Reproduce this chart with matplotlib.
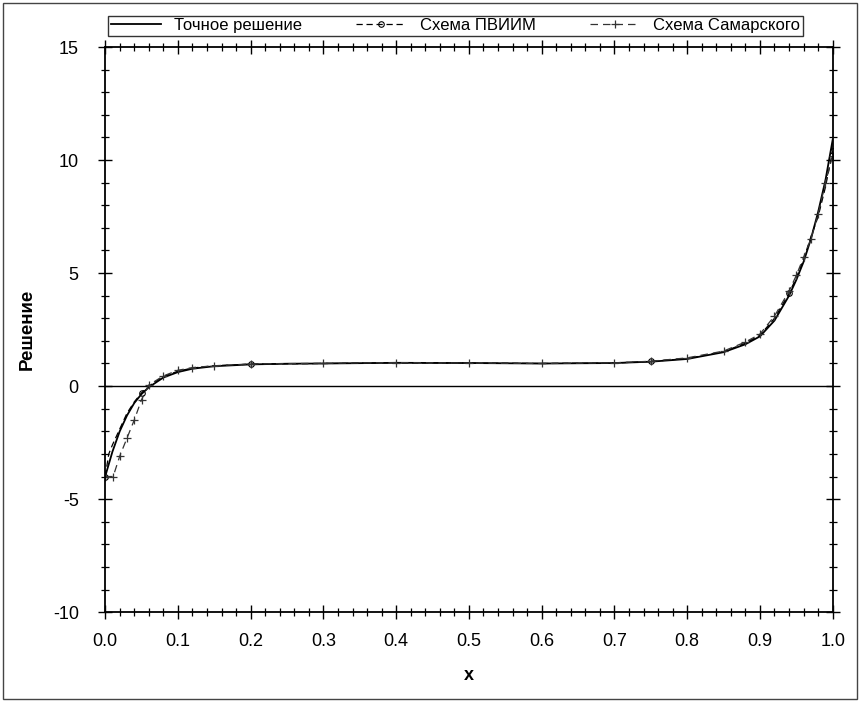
import matplotlib
matplotlib.use("Agg")
import matplotlib.pyplot as plt
from matplotlib.patches import Rectangle
from matplotlib.ticker import MultipleLocator

plt.rcParams['font.family'] = ['Liberation Sans', 'DejaVu Sans']
plt.rcParams['axes.unicode_minus'] = False

# exact solution
x_exact = [0.0, 0.01, 0.02, 0.03, 0.04, 0.05, 0.06, 0.08, 0.10, 0.12, 0.15, 0.20,
           0.25, 0.30, 0.40, 0.50, 0.60, 0.70, 0.75, 0.80, 0.85, 0.88, 0.90,
           0.92, 0.94, 0.95, 0.96, 0.97, 0.98, 0.99, 1.0]
y_exact = [-4.0, -2.9, -2.0, -1.3, -0.75, -0.35, -0.05, 0.38, 0.62, 0.77, 0.88, 0.96,
           0.99, 1.0, 1.03, 1.02, 1.0, 1.02, 1.08, 1.2, 1.5, 1.85, 2.2,
           2.9, 4.0, 4.7, 5.5, 6.5, 7.7, 9.1, 10.9]

# scheme PVIIM
x_pviim = [0.0, 0.005, 0.01, 0.02, 0.03, 0.04, 0.05, 0.06, 0.08, 0.10, 0.12, 0.15,
           0.20, 0.30, 0.40, 0.50, 0.60, 0.70, 0.75, 0.80, 0.85, 0.88, 0.90,
           0.92, 0.94, 0.95, 0.96, 0.97, 0.98, 0.99, 1.0]
y_pviim = [-4.0, -3.0, -2.6, -1.9, -1.2, -0.7, -0.3, 0.0, 0.42, 0.66, 0.8, 0.9,
           0.97, 1.0, 1.03, 1.02, 1.0, 1.02, 1.09, 1.22, 1.52, 1.9, 2.25,
           3.0, 4.1, 4.8, 5.6, 6.6, 7.5, 8.8, 10.4]

# scheme Samarsky
x_sam = [0.0, 0.011, 0.02, 0.03, 0.04, 0.05, 0.06, 0.08, 0.10, 0.12, 0.15,
         0.20, 0.30, 0.40, 0.50, 0.60, 0.70, 0.75, 0.80, 0.85, 0.88, 0.90,
         0.92, 0.94, 0.95, 0.96, 0.97, 0.98, 0.99, 1.0]
y_sam = [-4.0, -4.0, -3.1, -2.3, -1.5, -0.6, 0.05, 0.45, 0.7, 0.82, 0.9,
         0.98, 1.01, 1.04, 1.02, 1.0, 1.03, 1.1, 1.25, 1.55, 1.95, 2.3,
         3.1, 4.2, 4.9, 5.7, 6.5, 7.6, 9.0, 10.2]

fig = plt.figure(figsize=(8.62, 7.02), dpi=100)
ax = fig.add_axes([0.122, 0.128, 0.844, 0.805])

ax.axhline(0, color='black', lw=1.0, zorder=1)
ax.plot(x_exact, y_exact, color='black', lw=1.3, label='Точное решение')
ax.plot(x_pviim, y_pviim, color='black', lw=0.9, ls=(0, (5, 3)),
        marker='o', ms=4, mfc='none', mew=0.8, markevery=6, label='Схема ПВИИМ')
ax.plot(x_sam, y_sam, color='#333333', lw=0.9, ls=(0, (6, 4)),
        marker='+', ms=6, mew=0.9, markevery=1, label='Схема Самарского')

ax.set_xlim(0, 1)
ax.set_ylim(-10, 15)
ax.xaxis.set_minor_locator(MultipleLocator(0.02))
ax.yaxis.set_major_locator(MultipleLocator(5))
ax.yaxis.set_minor_locator(MultipleLocator(1))
ax.set_xticks([i / 10 for i in range(11)])
ax.set_xticklabels(['0.0', '0.1', '0.2', '0.3', '0.4', '0.5', '0.6', '0.7', '0.8', '0.9', '1.0'])
ax.tick_params(which='major', direction='inout', length=10, width=1.0, labelsize=13,
               top=True, right=True)
ax.tick_params(axis='x', which='major', pad=10)
ax.tick_params(axis='y', which='major', pad=14)
ax.tick_params(which='minor', direction='inout', length=6, width=0.9, top=True, right=True)
for s in ax.spines.values():
    s.set_linewidth(1.3)

ax.set_xlabel('x', fontsize=13, fontweight='bold', labelpad=12)
ax.set_ylabel('Решение', fontsize=13.5, fontweight='bold', labelpad=12)

leg = ax.legend(loc='lower left', bbox_to_anchor=(0.004, 1.02, 0.955, 0.04), ncol=3,
                mode='expand', fontsize=12, frameon=True, fancybox=False,
                edgecolor='black', handlelength=3.0, borderpad=0.15,
                borderaxespad=0, columnspacing=1.5)
leg.get_frame().set_linewidth(1.0)

fig.patches.append(Rectangle((0.004, 0.004), 0.99, 0.992, transform=fig.transFigure,
                             fill=False, edgecolor='#444444', lw=1.0))

fig.savefig('out.png', dpi=100)
